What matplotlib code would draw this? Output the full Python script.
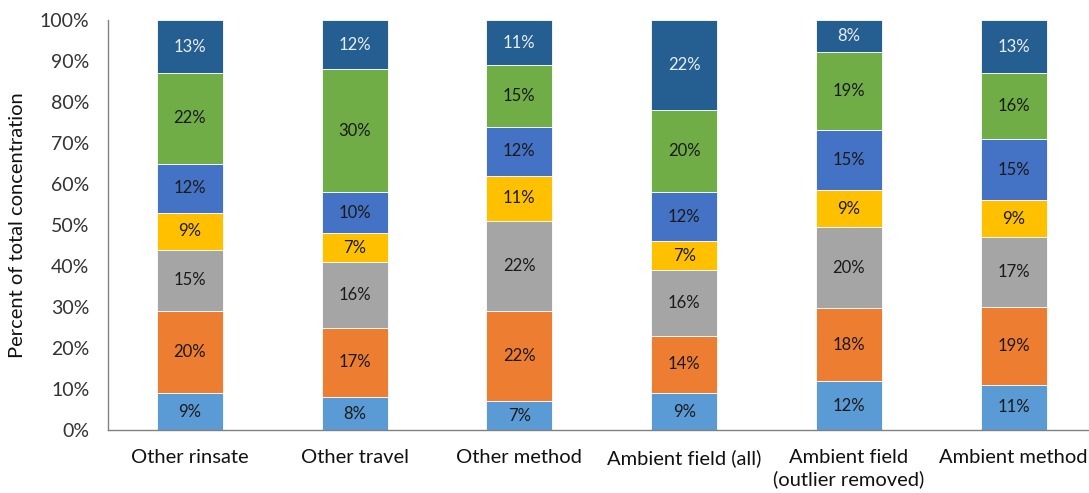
import matplotlib
matplotlib.use("Agg")
import matplotlib.pyplot as plt
import numpy as np

categories = ["Other rinsate", "Other travel", "Other method",
              "Ambient field (all)", "Ambient field\n(outlier removed)", "Ambient method"]

# Percent shares for each component, bottom to top
s1 = [9, 8, 7, 9, 12, 11]
s2 = [20, 17, 22, 14, 18, 19]
s3 = [15, 16, 22, 16, 20, 17]
s4 = [9, 7, 11, 7, 9, 9]
s5 = [12, 10, 12, 12, 15, 15]
s6 = [22, 30, 15, 20, 19, 16]
s7 = [13, 12, 11, 22, 8, 13]

series = [s1, s2, s3, s4, s5, s6, s7]
colors = ["#5B9BD5", "#ED7D31", "#A5A5A5", "#FFC000", "#4472C4", "#70AD47", "#255E91"]
label_colors = ["#1a1a1a"] * 6 + ["#e8eef6"]

plt.rcParams["font.family"] = ["Lato", "DejaVu Sans"]

fig = plt.figure(figsize=(10.89, 4.93), dpi=100)
W, H = 1089, 493
left, right, top, bottom = 107.5, 1096, 20, 430
ax = fig.add_axes([left / W, 1 - bottom / H, (right - left) / W, (bottom - top) / H])

data = np.array(series, dtype=float)
totals = data.sum(axis=0)
shares = data / totals * 100
x = np.arange(len(categories))
base = np.zeros(len(categories))
for vals, raw, col, lc in zip(shares, data, colors, label_colors):
    ax.bar(x, vals, bottom=base, width=0.4, color=col, edgecolor="white", linewidth=0.6)
    for xi, b, v, r in zip(x, base, vals, raw):
        ax.text(xi, b + v / 2, f"{r:.0f}%", ha="center", va="center",
                fontsize=12, color=lc)
    base += vals

ax.set_xlim(-0.5, len(categories) - 0.5)
ax.set_ylim(0, 100)
ax.set_yticks(np.arange(0, 101, 10))
ax.set_yticklabels([f"{t}%" for t in range(0, 101, 10)], fontsize=14, color="#333333")
ax.set_xticks(x)
ax.set_xticklabels(categories, fontsize=14.5, color="#111111", linespacing=1.25)
ax.tick_params(axis="y", length=0, pad=13)
ax.tick_params(axis="x", length=0, pad=14)
for s in ["top", "right"]:
    ax.spines[s].set_visible(False)
for s in ["left", "bottom"]:
    ax.spines[s].set_color("#808080")
    ax.spines[s].set_linewidth(1.0)
ax.set_ylabel("Percent of total concentration", fontsize=14.5, color="#111111")
ax.yaxis.set_label_coords(-0.082, 0.5)

fig.savefig("out.png", dpi=100)
